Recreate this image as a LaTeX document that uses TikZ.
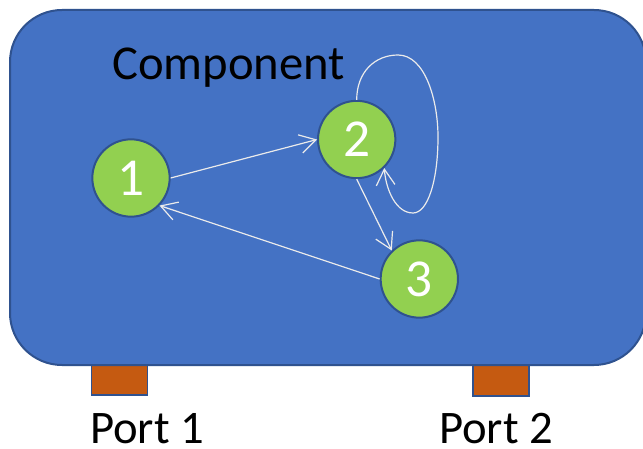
\documentclass[tikz,border=0pt]{standalone}
\usepackage{fontspec}
\setmainfont{Carlito}
\usetikzlibrary{arrows.meta}
\definecolor{boxblue}{HTML}{4472C4}
\definecolor{edgeblue}{HTML}{2F528F}
\definecolor{stategreen}{HTML}{92D050}
\definecolor{portorange}{HTML}{C55A11}
\tikzset{
  state/.style={circle, fill=stategreen, draw=edgeblue, line width=1.5pt, minimum size=58pt, inner sep=0pt, text=white, font=\fontsize{40}{44}\selectfont},
  port/.style={fill=portorange, draw=edgeblue, line width=1.2pt},
  trans/.style={draw=white!92!black, line width=0.9pt, -{Straight Barb[length=12pt,width=14pt,line width=0.9pt]}},
  label/.style={font=\fontsize{35}{40}\selectfont, text=black, inner sep=0pt}
}
\begin{document}
\begin{tikzpicture}[x=0.75pt,y=-0.75pt]
\useasboundingbox (0,0) rectangle (643,449);
\fill[white] (0,0) rectangle (643,449);
\draw[port] (91.5,355) rectangle (147.5,395);
\draw[port] (473,355) rectangle (529,396);
\draw[fill=boxblue, draw=edgeblue, line width=1.5pt, rounded corners=39pt] (10,10) rectangle (646,365);
\node[label, anchor=base west, font=\fontsize{36.5}{40}\selectfont] (comp) at (112,80) {Component};
\node[state] (n1) at (131,178) {1};
\node[state] (n2) at (356.7,139.5) {2};
\node[state] (n3) at (419.3,279) {3};
\draw[trans] (n1.east) -- (n2.west);
\draw[trans] (n2.south) -- (n3.134);
\draw[trans] (n3.west) -- (n1.-44);
\coordinate (lt) at (398,55);
\coordinate (lr) at (438,137);
\coordinate (lb) at (413,213);
\draw[trans] (n2.north) .. controls (356.7,72) and (375,55) .. (lt)
  .. controls (425,55) and (438,100) .. (lr)
  .. controls (438,180) and (428,213) .. (lb)
  .. controls (396,213) and (386,190) .. (n2.-46);
\node[label, anchor=base] (p1) at (147,443) {Port 1};
\node[label, anchor=base] (p2) at (496,443) {Port 2};
\end{tikzpicture}
\end{document}
